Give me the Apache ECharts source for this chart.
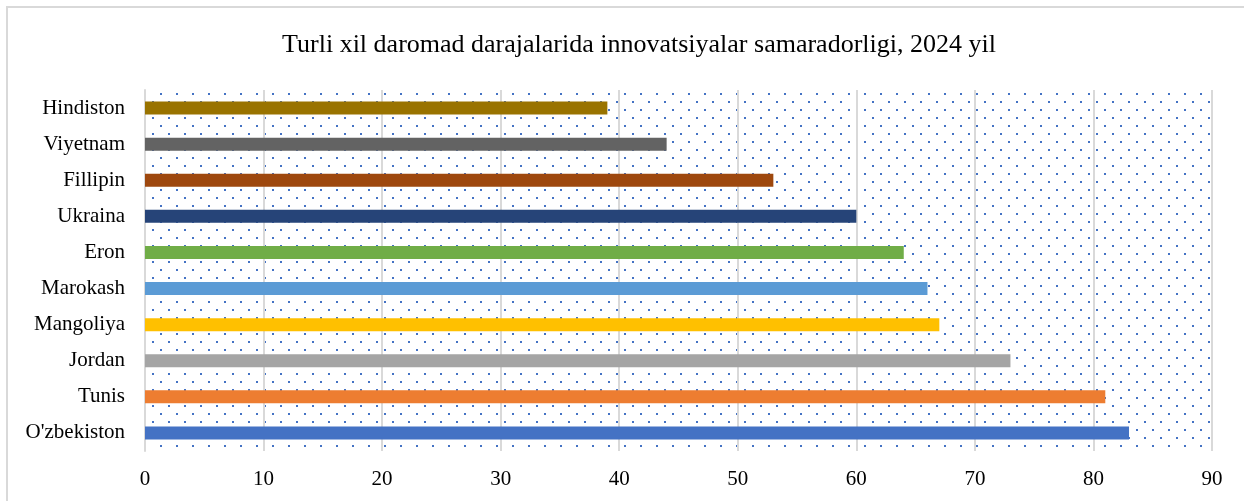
<!DOCTYPE html>
<html>
<head>
<meta charset="utf-8">
<script src="https://cdn.jsdelivr.net/npm/echarts@6/dist/echarts.min.js"></script>
<style>
    html, body { margin: 0; padding: 0; background: #fff; }
    #chart { width: 1244px; height: 501px; }
</style>
</head>
<body>
<div id="chart"></div>
<script>
// categories from bottom to top
var countries = ["O'zbekiston", "Tunis", "Jordan", "Mangoliya", "Marokash", "Eron", "Ukraina", "Fillipin", "Viyetnam", "Hindiston"];
var values = [83, 81, 73, 67, 66, 64, 60, 53, 44, 39];
var barColors = ["#4472C4", "#ED7D31", "#A5A5A5", "#FFC000", "#5B9BD5", "#70AD47", "#264478", "#9E480E", "#636363", "#997300"];
var xTicks = [0, 10, 20, 30, 40, 50, 60, 70, 80, 90];

// dotted background of the plot area
function makeDots () {
    var c = document.createElement("canvas");
    c.width = 16;
    c.height = 16;
    var ctx = c.getContext("2d");
    ctx.fillStyle = "#4472C4";
    ctx.fillRect(0, 13, 2, 2);
    ctx.fillRect(8, 5, 2, 2);
    return c;
}

var font = "'Liberation Serif', 'Times New Roman', serif";
var myChart = echarts.init(document.getElementById("chart"), null, {renderer: "canvas"});

var option = {
    animation: false,
    backgroundColor: "#fff",
    title: {
        text: "Turli xil daromad darajalarida innovatsiyalar samaradorligi, 2024 yil",
        left: 634,
        textAlign: "center",
        top: 27,
        textStyle: {
            fontFamily: font,
            fontSize: 26,
            fontWeight: "normal",
            color: "#000"
        }
    },
    graphic: [{
        type: "rect",
        shape: {x: 7, y: 7, width: 1300, height: 600},
        style: {fill: null, stroke: "#d9d9d9", lineWidth: 2},
        silent: true
    }],
    grid: {
        left: 145,
        right: 32,
        top: 90,
        bottom: 50,
        show: true,
        borderWidth: 0,
        backgroundColor: {image: makeDots(), repeat: "repeat"}
    },
    xAxis: {
        type: "value",
        min: xTicks[0],
        max: xTicks[xTicks.length - 1],
        interval: 10,
        axisLine: {show: false},
        axisTick: {show: false},
        axisLabel: {
            margin: 18,
            fontFamily: font,
            fontSize: 21,
            color: "#000"
        },
        splitLine: {lineStyle: {color: "#d9d9d9", width: 2}}
    },
    yAxis: {
        type: "category",
        data: countries,
        axisLine: {show: true, lineStyle: {color: "#d9d9d9", width: 2}},
        axisTick: {show: false},
        axisLabel: {
            margin: 20,
            fontFamily: font,
            fontSize: 21,
            color: "#000"
        }
    },
    series: [{
        type: "bar",
        barWidth: 13,
        data: values.map(function (v, i) {
            return {value: v, itemStyle: {color: barColors[i]}};
        })
    }]
};
myChart.setOption(option);
</script>
</body>
</html>
